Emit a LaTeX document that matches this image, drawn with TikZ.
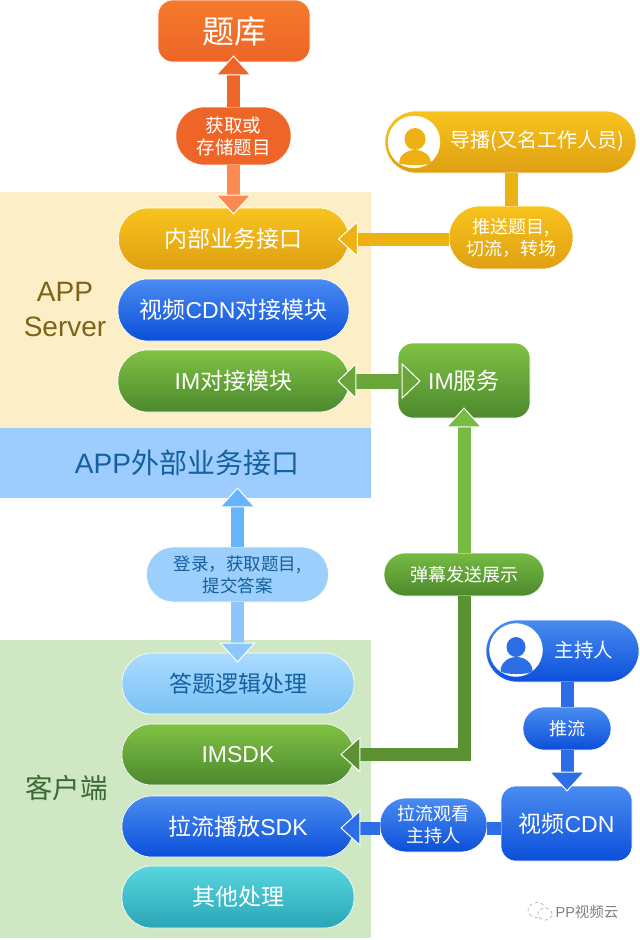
\documentclass[tikz,border=0pt]{standalone}
\usepackage{fontspec}
\setmainfont{Noto Sans CJK SC}
\newfontfamily\latinfont{Liberation Sans}
\usetikzlibrary{arrows.meta}
\definecolor{creambg}{HTML}{FCEFC8}
\definecolor{bluebg}{HTML}{9CCDFE}
\definecolor{greenbg}{HTML}{CFE7C2}
\definecolor{orT}{HTML}{F47A2C}\definecolor{orB}{HTML}{EE6527}
\definecolor{orS}{HTML}{EE6528}\definecolor{orL}{HTML}{FB8A50}
\definecolor{goT}{HTML}{F8C31D}\definecolor{goB}{HTML}{DFA012}\definecolor{goS}{HTML}{EDB114}
\definecolor{blT}{HTML}{4A8CF0}\definecolor{blB}{HTML}{0B4FDA}\definecolor{blS}{HTML}{2D6EE6}
\definecolor{grT}{HTML}{80C244}\definecolor{grB}{HTML}{4C882D}\definecolor{grS}{HTML}{5C9133}\definecolor{grL}{HTML}{77BB43}\definecolor{grM}{HTML}{6AA53A}
\definecolor{skT}{HTML}{ABDCFF}\definecolor{skB}{HTML}{79C1F5}\definecolor{skS}{HTML}{66B4FB}\definecolor{skP}{HTML}{9CCFFB}\definecolor{skQ}{HTML}{8CC6FB}
\definecolor{teT}{HTML}{58D6DE}\definecolor{teB}{HTML}{2AA5B7}
\definecolor{darkblue}{HTML}{14609F}
\definecolor{brownlab}{HTML}{7D6316}
\definecolor{greenlab}{HTML}{3A6A35}
\tikzset{
  fs/.style={font=\fontsize{#1}{22}\selectfont},
  boxbase/.style={inner sep=0pt,align=center,text=white,draw=white,line width=.6pt},
  gbox/.style n args={4}{boxbase,minimum width=#1,minimum height=#2,top color=#3,bottom color=#4},
  band/.style={inner sep=0pt,minimum width=371pt,anchor=north west},
  arr/.style={line width=13pt,draw=#1,-{Triangle[length=20pt,width=36pt,line width=1pt,color=white,fill=#1]}},
  darr/.style={line width=15pt,draw=#1,{Triangle[length=19pt,width=36pt,line width=1pt,color=white,fill=#1]}-{Triangle[length=19pt,width=36pt,line width=1pt,color=white,fill=#1]}},
  plain/.style={line width=13pt,draw=#1},
}
\begin{document}
\begin{tikzpicture}[x=1pt,y=-1pt]
\useasboundingbox (0,0) rectangle (640,940);
\fill[white] (0,0) rectangle (640,940);
% background bands
\node[band,fill=creambg,minimum height=236pt] (appbg) at (0,192) {};
\node[band,fill=bluebg,minimum height=70pt] (outer) at (0,428) {};
\node[band,fill=greenbg,minimum height=298pt] (clientbg) at (0,640) {};
\node[fs=28,text=darkblue] (outert) at (187,463) {{\latinfont APP}外部业务接口};
\node[text=brownlab,align=center,font=\latinfont\fontsize{28}{35}\selectfont] (applabel) at (65,309) {APP\\Server};
\node[fs=27.5,text=greenlab] (clientlabel) at (66.5,788) {客户端};
% nodes
\node[gbox={152pt}{62pt}{orT}{orB},rounded corners=15pt,fs=32] (bank) at (234,31) {题库};
\node[gbox={115pt}{58pt}{orS}{orB},rounded corners=28pt,fs=18.5] (fetch) at (233.5,136) {获取或\\存储题目};
\node[gbox={251pt}{62pt}{goT}{goB},rounded corners=31pt] (guide) at (510.5,142) {};
\node[gbox={124pt}{63pt}{goT}{goB},rounded corners=31pt,fs=18] (pushq) at (511,237.5) {推送题目,\\切流^^^^ff0c转场};
\node[gbox={230pt}{62pt}{goT}{goB},rounded corners=30pt,fs=23] (inner) at (233.5,239) {内部业务接口};
\node[gbox={231pt}{62pt}{blT}{blB},rounded corners=30pt,fs=23] (cdnmod) at (233.5,310) {视频{\latinfont CDN}对接模块};
\node[gbox={231pt}{62pt}{grT}{grB},rounded corners=30pt,fs=23] (immod) at (233.5,381) {{\latinfont IM}对接模块};
\node[gbox={132pt}{75pt}{grT}{grB},rounded corners=15pt,fs=23] (imsvc) at (464,380.5) {{\latinfont IM}服务};
\node[gbox={160pt}{43pt}{grL}{grB},rounded corners=21pt,fs=18] (danmu) at (464,574.5) {弹幕发送展示};
\node[boxbase,minimum width=182pt,minimum height=55pt,fill=skP,rounded corners=27pt,text=darkblue,fs=17.5] (login) at (237.5,574.5) {登录^^^^ff0c获取题目,\\提交答案};
\node[gbox={232pt}{61pt}{skT}{skB},rounded corners=30pt,text=darkblue,fs=23] (answer) at (238,683.5) {答题逻辑处理};
\node[gbox={232pt}{61pt}{grT}{grB},rounded corners=30pt,fs=23] (imsdk) at (238,754.5) {\latinfont IMSDK};
\node[gbox={232pt}{61pt}{blT}{blB},rounded corners=30pt,fs=23] (pullsdk) at (238,826.5) {拉流播放{\latinfont SDK}};
\node[gbox={232pt}{62pt}{teT}{teB},rounded corners=30pt,fs=23] (other) at (238,897) {其他处理};
\node[gbox={153pt}{62pt}{blT}{blB},rounded corners=31pt] (host) at (562.5,651) {};
\node[gbox={88pt}{43pt}{blT}{blB},rounded corners=21pt,fs=18] (pushs) at (567,728.5) {推流};
\node[gbox={131pt}{75pt}{blT}{blB},rounded corners=15pt,fs=23] (cdn) at (566.5,823.5) {视频{\latinfont CDN}};
\node[gbox={107pt}{54pt}{blT}{blB},rounded corners=26pt,fs=18] (pull) at (433.5,825) {拉流观看\\主持人};
% person icons and their texts
\node[circle,fill=white,draw=white,minimum size=52pt,inner sep=0pt] (guideicon) at (414,142) {};
\fill[goS] (415,139) ellipse (10.5pt and 11pt);
\fill[goS] (399,163) arc[start angle=180,end angle=0,x radius=16pt,y radius=13pt] arc[start angle=0,end angle=-180,x radius=16pt,y radius=2pt];
\node[text=white,fs=20] (guidet) at (537,141) {导播(又名工作人员)};
\node[circle,fill=white,draw=white,minimum size=53pt,inner sep=0pt] (hosticon) at (516,650) {};
\fill[blS] (516,647) ellipse (9.5pt and 10pt);
\fill[blS] (500.5,671) arc[start angle=180,end angle=0,x radius=16pt,y radius=14pt] arc[start angle=0,end angle=-180,x radius=16pt,y radius=3pt];
\node[text=white,fs=19.5] (hostt) at (584,650) {主持人};
% connectors
\draw[arr=orS,shorten >=-7pt] (fetch.north) -- (fetch.north |- bank.south);
\draw[arr=orL,shorten >=-7pt] (fetch.south) -- (fetch.south |- inner.north);
\draw[plain=goS] (pushq.north |- guide.south) -- (pushq.north);
\draw[arr=goS,shorten >=-11pt] (pushq.west |- inner.east) -- (inner.east);
\draw[darr=grM,shorten <=-12pt,shorten >=-23pt] (immod.east) -- (immod.east -| imsvc.west);
\draw[arr=grL,shorten >=-11pt] (danmu.north) -- (imsvc.south);
\draw[arr=grS,shorten >=-14pt] (danmu.south) -- (danmu.south |- imsdk.east) -- (imsdk.east);
\draw[arr=skS,shorten >=-11pt] (login.north) -- (login.north |- outer.south);
\draw[arr=skQ,shorten >=-10pt] (login.south) -- (login.south |- answer.north);
\draw[plain=blS] (pushs.north |- host.south) -- (pushs.north);
\draw[arr=blS,shorten >=-6pt] (pushs.south) -- (pushs.south |- cdn.north);
\draw[plain=blS] ([yshift=-3pt]pull.east) -- ([yshift=-3pt]pull.east -| cdn.west);
\draw[arr=blS,shorten >=-14pt] ([yshift=-3pt]pull.west) -- ([yshift=-3pt]pull.west -| pullsdk.east);
% watermark
\draw[gray!70,dashed,line width=.6pt] (537,910) ellipse (9pt and 7.5pt);
\draw[gray!70,dashed,line width=.6pt,fill=white] (545,914) ellipse (7pt and 6pt);
\node[text=gray,fs=14.5] (wm) at (587,912) {{\latinfont PP}视频云};
\end{tikzpicture}
\end{document}
